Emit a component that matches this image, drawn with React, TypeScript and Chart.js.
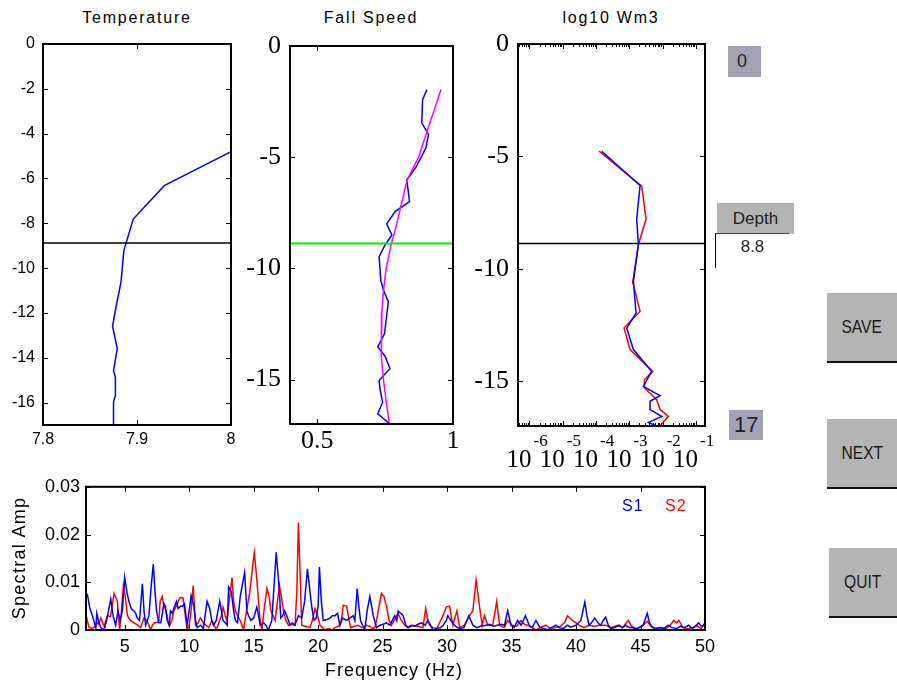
import React, { useEffect, useRef } from 'react';
import { Chart, registerables } from 'chart.js';
Chart.register(...registerables);

// ---------------- DATA ----------------
const DEPTH_MARK = -8.88;
const DEPTH_LABEL = '8.8';
const DEPTH_MIN_LABEL = '0';
const DEPTH_MAX_LABEL = '17';

const DEPTH_TICKS_TEMP = [0, -2, -4, -6, -8, -10, -12, -14, -16];
const DEPTH_TICKS_5 = [0, -5, -10, -15];

const TEMP_TICKS = [7.8, 7.9, 8];
const TEMP_DEPTH = [-4.8, -6.32, -7.81, -9.22, -10.61, -11.88, -12.59, -13.59, -14.59, -14.86, -15.68, -15.98, -17.0];
const TEMP_VALUES = [8.0, 7.929, 7.896, 7.886, 7.883, 7.877, 7.874, 7.879, 7.875, 7.877, 7.877, 7.875, 7.875];

const FALL_TICKS = [0.5, 1];
const FALL_DEPTH = [-1.96, -2.41, -3.46, -3.99, -4.59, -5.42, -6.02, -7.0, -7.45, -8.0, -8.5, -8.95, -9.47, -10.53, -10.98, -11.5, -12.93, -13.53, -13.95, -14.51, -15.04, -15.49, -16.02, -16.54, -17.0];
const FALL_SPEED = [0.904, 0.888, 0.885, 0.91, 0.9, 0.865, 0.83, 0.84, 0.787, 0.756, 0.775, 0.75, 0.728, 0.734, 0.744, 0.762, 0.748, 0.723, 0.75, 0.768, 0.728, 0.732, 0.741, 0.723, 0.768];
const MODEL_DEPTH = [-1.96, -3.5, -5, -6, -7, -8, -9, -10, -11, -12, -13, -14, -15, -16, -17];
const MODEL_SPEED = [0.956, 0.914, 0.873, 0.832, 0.812, 0.793, 0.771, 0.754, 0.744, 0.738, 0.735, 0.738, 0.744, 0.754, 0.766];

const LOG_MIN = -6.345;
const LOG_MAX = -0.73;
const LOG_TICKS = [-6, -5, -4, -3, -2, -1];
const W1_DEPTH = [-4.77, -6.3, -7.81, -8.93, -10.56, -11.97, -12.64, -13.6, -14.57, -15.24, -15.65, -15.9, -16.27, -16.57, -16.84, -17.0];
const W1_LOG = [-3.83, -2.68, -2.78, -2.73, -2.88, -2.8, -3.08, -2.88, -2.33, -2.58, -2.08, -2.38, -2.38, -2.03, -2.43, -2.18];
const W2_DEPTH = [-4.77, -6.33, -7.78, -8.93, -10.6, -11.9, -12.64, -13.6, -14.57, -14.94, -15.3, -15.83, -16.27, -16.57, -17.0];
const W2_LOG = [-3.91, -2.63, -2.5, -2.73, -2.9, -2.68, -3.16, -2.98, -2.3, -2.55, -2.55, -2.18, -2.08, -1.83, -2.08];

const FREQ_TICKS = [5, 10, 15, 20, 25, 30, 35, 40, 45, 50];
const AMP_TICKS = [0, 0.01, 0.02, 0.03];
// [frequency Hz, spectral amplitude]
const S1_POINTS: [number, number][] = [
  [2.0, 0.0075], [2.11, 0.0074], [2.3, 0.0045], [2.5, 0.003], [2.76, 0.0004], [2.84, 0.0035], [3.0, 0.0015], [3.15, 0.0005], [3.4, 0.0], [3.6, 0.002],
  [3.92, 0.0065], [4.1, 0.003], [4.3, 0.001], [4.48, 0.004], [4.65, 0.002], [4.82, 0.004], [5.0, 0.011], [5.17, 0.008], [5.33, 0.006], [5.5, 0.0045],
  [5.72, 0.004], [5.85, 0.0035], [5.98, 0.0025], [6.15, 0.002], [6.37, 0.0097], [6.5, 0.004], [6.62, 0.001], [6.75, 0.002], [6.88, 0.003], [7.05, 0.009],
  [7.22, 0.0138], [7.35, 0.008], [7.47, 0.004], [7.65, 0.0015], [7.8, 0.0015], [8.04, 0.0055], [8.15, 0.005], [8.3, 0.002], [8.45, 0.001], [8.55, 0.004],
  [8.7, 0.0035], [8.81, 0.0045], [9.02, 0.006], [9.15, 0.0045], [9.33, 0.005], [9.5, 0.005], [9.64, 0.0055], [9.84, 0.001], [10.0, 0.004], [10.15, 0.0072],
  [10.36, 0.005], [10.5, 0.002], [10.62, 0.0005], [10.9, 0.001], [11.1, 0.0003], [11.39, 0.006], [11.59, 0.0045], [11.75, 0.002], [11.9, 0.001], [12.1, 0.002],
  [12.37, 0.006], [12.5, 0.004], [12.62, 0.002], [12.8, 0.0015], [12.95, 0.001], [13.06, 0.009], [13.27, 0.008], [13.45, 0.004], [13.58, 0.002], [13.75, 0.0015],
  [13.96, 0.007], [14.3, 0.012], [14.48, 0.004], [14.6, 0.003], [14.79, 0.002], [15.0, 0.0025], [15.25, 0.0048], [15.38, 0.003], [15.51, 0.001], [15.77, 0.0015],
  [15.95, 0.001], [16.15, 0.0], [16.41, 0.002], [16.75, 0.0163], [17.0, 0.008], [17.1, 0.0025], [17.26, 0.003], [17.4, 0.004], [17.57, 0.003], [17.83, 0.001],
  [18.0, 0.0015], [18.2, 0.001], [18.47, 0.003], [18.73, 0.0025], [18.95, 0.006], [19.17, 0.0128], [19.37, 0.008], [19.5, 0.005], [19.68, 0.002], [19.85, 0.0025],
  [20.0, 0.005], [20.1, 0.0132], [20.25, 0.006], [20.4, 0.002], [20.7, 0.0022], [20.92, 0.0025], [21.1, 0.003], [21.31, 0.003], [21.5, 0.0035], [21.69, 0.001],
  [21.9, 0.0025], [22.21, 0.002], [22.45, 0.0025], [22.72, 0.003], [22.85, 0.002], [23.03, 0.0087], [23.15, 0.005], [23.29, 0.002], [23.45, 0.001], [23.62, 0.0],
  [23.8, 0.004], [24.01, 0.007], [24.15, 0.005], [24.27, 0.003], [24.53, 0.0005], [24.8, 0.001], [25.04, 0.0012], [25.3, 0.0015], [25.56, 0.001], [25.75, 0.002],
  [25.94, 0.003], [26.1, 0.002], [26.2, 0.004], [26.4, 0.0035], [26.59, 0.003], [26.8, 0.001], [26.97, 0.0005], [27.2, 0.001], [27.5, 0.0008], [27.75, 0.0012],
  [28.0, 0.0015], [28.3, 0.001], [28.52, 0.002], [28.7, 0.001], [28.91, 0.0], [29.2, 0.0003], [29.5, 0.0005], [29.7, 0.001], [29.94, 0.002], [30.06, 0.003],
  [30.3, 0.002], [30.58, 0.001], [30.8, 0.0005], [31.0, 0.0003], [31.3, 0.0005], [31.69, 0.003], [32.0, 0.001], [32.3, 0.0005], [32.6, 0.0008], [33.03, 0.001],
  [33.3, 0.0012], [33.6, 0.0008], [33.9, 0.001], [34.2, 0.0012], [34.45, 0.001], [34.7, 0.004], [34.96, 0.001], [35.2, 0.0005], [35.47, 0.002], [35.75, 0.001],
  [36.07, 0.003], [36.37, 0.001], [36.6, 0.0005], [36.89, 0.002], [37.2, 0.0005], [37.5, 0.0003], [37.8, 0.0], [38.1, 0.0005], [38.44, 0.001], [38.7, 0.0005],
  [39.0, 0.0003], [39.34, 0.001], [39.6, 0.0006], [40.0, 0.001], [40.37, 0.002], [40.68, 0.0058], [40.85, 0.003], [41.01, 0.001], [41.2, 0.0015], [41.45, 0.0025],
  [41.7, 0.0015], [41.91, 0.001], [42.1, 0.002], [42.3, 0.0027], [42.5, 0.001], [42.69, 0.0003], [43.0, 0.0005], [43.33, 0.001], [43.6, 0.0005], [43.85, 0.001],
  [44.1, 0.0005], [44.36, 0.0005], [44.6, 0.0002], [44.9, 0.0005], [45.2, 0.001], [45.52, 0.0035], [45.7, 0.0015], [45.91, 0.0005], [46.2, 0.0003], [46.5, 0.0005],
  [46.8, 0.0003], [47.14, 0.001], [47.45, 0.0005], [47.8, 0.0003], [48.1, 0.0008], [48.4, 0.0005], [48.74, 0.001], [49.0, 0.0003], [49.2, 0.0007], [49.51, 0.0015],
  [49.7, 0.0008], [49.9, 0.001], [50.0, 0.0015],
];
const S2_POINTS: [number, number][] = [
  [2.0, 0.0028], [2.06, 0.0025], [2.24, 0.0005], [2.5, 0.0003], [2.7, 0.0008], [2.89, 0.0015], [3.0, 0.0012], [3.15, 0.0025], [3.4, 0.0008], [3.66, 0.003],
  [3.9, 0.0028], [4.18, 0.0077], [4.43, 0.006], [4.61, 0.0], [4.75, 0.004], [4.9, 0.0093], [5.05, 0.007], [5.21, 0.003], [5.45, 0.002], [5.72, 0.0015],
  [6.0, 0.001], [6.24, 0.0005], [6.49, 0.0025], [6.7, 0.002], [6.88, 0.001], [7.01, 0.0], [7.15, 0.001], [7.32, 0.0015], [7.5, 0.0015], [7.65, 0.002],
  [7.75, 0.006], [7.91, 0.007], [8.05, 0.005], [8.22, 0.004], [8.35, 0.002], [8.5, 0.001], [8.65, 0.002], [8.81, 0.004], [9.0, 0.005], [9.28, 0.0068],
  [9.53, 0.0067], [9.7, 0.003], [9.84, 0.0], [10.0, 0.001], [10.15, 0.004], [10.31, 0.0093], [10.49, 0.001], [10.7, 0.0015], [10.87, 0.0025], [11.1, 0.0015],
  [11.3, 0.001], [11.52, 0.0005], [11.77, 0.002], [11.95, 0.001], [12.11, 0.0], [12.3, 0.0015], [12.5, 0.003], [12.62, 0.0048], [12.8, 0.003], [12.93, 0.002],
  [13.1, 0.006], [13.32, 0.011], [13.45, 0.006], [13.58, 0.004], [13.75, 0.003], [13.96, 0.002], [14.1, 0.001], [14.22, 0.0], [14.45, 0.004], [14.7, 0.008],
  [15.05, 0.0162], [15.2, 0.012], [15.38, 0.006], [15.5, 0.002], [15.64, 0.0], [15.8, 0.004], [16.03, 0.0087], [16.2, 0.007], [16.34, 0.004], [16.5, 0.003],
  [16.67, 0.002], [16.8, 0.005], [17.0, 0.0093], [17.15, 0.007], [17.31, 0.004], [17.5, 0.002], [17.7, 0.001], [17.9, 0.0012], [18.21, 0.001], [18.35, 0.008],
  [18.47, 0.0225], [18.6, 0.012], [18.73, 0.001], [19.0, 0.0008], [19.37, 0.0005], [19.55, 0.002], [19.76, 0.0045], [19.95, 0.003], [20.15, 0.001], [20.35, 0.0005],
  [20.53, 0.0], [20.8, 0.0003], [21.05, 0.0], [21.31, 0.0005], [21.6, 0.0008], [21.8, 0.002], [21.95, 0.0052], [22.21, 0.005], [22.4, 0.002], [22.52, 0.0005],
  [22.8, 0.0008], [23.11, 0.001], [23.4, 0.0005], [23.75, 0.001], [24.0, 0.0008], [24.2, 0.0003], [24.4, 0.0005], [24.6, 0.003], [24.91, 0.0077], [25.1, 0.007],
  [25.3, 0.005], [25.5, 0.002], [25.69, 0.001], [25.9, 0.002], [26.2, 0.0035], [26.45, 0.002], [26.72, 0.001], [27.0, 0.0005], [27.36, 0.001], [27.7, 0.0008],
  [28.13, 0.0005], [28.34, 0.0045], [28.5, 0.002], [28.65, 0.001], [28.9, 0.0005], [29.2, 0.0003], [29.5, 0.002], [29.68, 0.003], [29.94, 0.0048], [30.19, 0.005],
  [30.45, 0.001], [30.76, 0.004], [30.97, 0.0005], [31.35, 0.001], [31.55, 0.002], [31.74, 0.003], [32.0, 0.004], [32.25, 0.0105], [32.56, 0.004], [32.72, 0.001],
  [32.9, 0.003], [33.16, 0.001], [33.54, 0.001], [33.85, 0.006], [34.06, 0.001], [34.44, 0.0005], [34.7, 0.002], [35.04, 0.001], [35.4, 0.0008], [35.73, 0.002],
  [36.0, 0.0012], [36.25, 0.001], [36.6, 0.0005], [36.89, 0.0], [37.2, 0.0005], [37.66, 0.001], [38.0, 0.0003], [38.4, 0.0005], [38.8, 0.0008], [39.1, 0.0015],
  [39.34, 0.003], [39.72, 0.002], [40.0, 0.0015], [40.24, 0.001], [40.6, 0.0005], [41.01, 0.001], [41.4, 0.0008], [41.8, 0.001], [42.3, 0.001], [42.7, 0.0005],
  [43.2, 0.001], [43.6, 0.0005], [44.05, 0.002], [44.3, 0.0008], [44.7, 0.0003], [45.1, 0.0008], [45.52, 0.0018], [45.8, 0.0008], [46.2, 0.0003], [46.6, 0.0005],
  [47.0, 0.0003], [47.3, 0.001], [47.58, 0.002], [47.8, 0.0015], [47.97, 0.002], [48.3, 0.0005], [48.6, 0.0002], [49.0, 0.0005], [49.4, 0.0008], [49.7, 0.0003],
  [50.0, 0.0015],
];

// ---------------- STYLE ----------------
const ARIAL = 'Arial, "Liberation Sans", Helvetica, sans-serif';
const TIMES = '"Times New Roman", "Liberation Serif", Times, serif';

type Geo = { left: number; top: number; width: number; height: number; pL: number; pT: number; pR: number; pB: number };

const GEO_TEMP: Geo = { left: 0, top: 0, width: 250, height: 460, pL: 43, pT: 44, pR: 231, pB: 425 };
const GEO_FALL: Geo = { left: 236, top: 0, width: 230, height: 460, pL: 290, pT: 46, pR: 453, pB: 424 };
const GEO_LOG: Geo = { left: 466, top: 0, width: 254, height: 475, pL: 518, pT: 44, pR: 705, pB: 426 };
const GEO_SPEC: Geo = { left: 0, top: 470, width: 722, height: 212, pL: 86, pT: 482, pR: 705, pB: 630 };

const framePlugin = {
  id: 'frame',
  afterDatasetsDraw(chart: any, _a: any, opts: any) {
    const { ctx, chartArea: a } = chart;
    const xs = chart.scales.x;
    const ys = chart.scales.y;
    const len = opts.tick || 5;
    ctx.save();
    ctx.strokeStyle = '#000';
    ctx.lineWidth = 1;
    ctx.beginPath();
    xs.ticks.forEach((t: any) => {
      const p = Math.round(xs.getPixelForValue(t.value)) + 0.5;
      ctx.moveTo(p, a.bottom); ctx.lineTo(p, a.bottom - len);
      ctx.moveTo(p, a.top); ctx.lineTo(p, a.top + len);
    });
    ys.ticks.forEach((t: any) => {
      const p = Math.round(ys.getPixelForValue(t.value)) + 0.5;
      ctx.moveTo(a.left, p); ctx.lineTo(a.left + len, p);
      ctx.moveTo(a.right, p); ctx.lineTo(a.right - len, p);
    });
    (opts.minorX || []).forEach((v: number) => {
      if (v <= xs.min || v >= xs.max) return;
      const p = Math.round(xs.getPixelForValue(v)) + 0.5;
      ctx.moveTo(p, a.bottom); ctx.lineTo(p, a.bottom - 3);
      ctx.moveTo(p, a.top); ctx.lineTo(p, a.top + 3);
    });
    ctx.stroke();
    ctx.lineWidth = opts.width || 2;
    ctx.strokeRect(a.left, a.top, a.right - a.left, a.bottom - a.top);
    ctx.restore();
  },
};

const logLabelPlugin = {
  id: 'logLabels',
  afterDraw(chart: any) {
    const { ctx } = chart;
    const xs = chart.scales.x;
    ctx.save();
    ctx.fillStyle = '#000';
    ctx.textBaseline = 'alphabetic';
    LOG_TICKS.forEach((v) => {
      const p = xs.getPixelForValue(v);
      ctx.font = `25px ${TIMES}`;
      ctx.textAlign = 'right';
      ctx.fillText('10', p + 2, 467);
      ctx.font = `17px ${TIMES}`;
      ctx.textAlign = 'left';
      ctx.fillText(String(v), p + 4, 446);
    });
    ctx.restore();
  },
};

interface AxisSpec {
  min: number; max: number; ticks: number[]; size: number; family: string; padding: number; labels?: boolean;
}

const fmt = (v: number) => String(Math.round(v * 10000) / 10000);

function buildOptions(g: Geo, x: AxisSpec, y: AxisSpec, frame: any = {}) {
  const padTop = g.pT - g.top;
  const padRight = g.left + g.width - g.pR;
  const yWidth = g.pL - g.left;
  const xHeight = g.top + g.height - g.pB;
  return {
    responsive: false,
    animation: false,
    events: [],
    layout: { padding: { left: 0, top: padTop, right: padRight, bottom: 0 } },
    plugins: { legend: { display: false }, tooltip: { enabled: false }, frame },
    scales: {
      x: {
        type: 'linear', position: 'bottom', min: x.min, max: x.max,
        grid: { display: false, drawTicks: false }, border: { display: false },
        ticks: {
          display: x.labels !== false, color: '#000', font: { family: x.family, size: x.size },
          padding: x.padding, maxRotation: 0, minRotation: 0, autoSkip: false,
          callback: (v: any) => fmt(Number(v)),
        },
        afterBuildTicks: (s: any) => { s.ticks = x.ticks.map((v) => ({ value: v })); },
        afterFit: (s: any) => { s.height = xHeight; },
      },
      y: {
        type: 'linear', position: 'left', min: y.min, max: y.max,
        grid: { display: false, drawTicks: false }, border: { display: false },
        ticks: {
          display: y.labels !== false, color: '#000', font: { family: y.family, size: y.size },
          padding: y.padding, autoSkip: false, callback: (v: any) => fmt(Number(v)),
        },
        afterBuildTicks: (s: any) => { s.ticks = y.ticks.map((v) => ({ value: v })); },
        afterFit: (s: any) => { s.width = yWidth; },
      },
    },
  };
}

const line = (xs: number[], ys: number[], color: string, width = 1.5) => ({
  data: xs.map((v, i) => ({ x: v, y: ys[i] })),
  showLine: true, borderColor: color, backgroundColor: color, borderWidth: width,
  pointRadius: 0, tension: 0, clip: 0,
});

function ChartCanvas({ g, make }: { g: Geo; make: () => any }) {
  const ref = useRef<HTMLCanvasElement>(null);
  useEffect(() => {
    const chart = new Chart(ref.current as HTMLCanvasElement, make());
    return () => chart.destroy();
  }, []);
  return (
    <canvas ref={ref} width={g.width} height={g.height}
      style={{ position: 'absolute', left: g.left, top: g.top, width: g.width, height: g.height }} />
  );
}

const makeTemp = () => ({
  type: 'scatter',
  data: {
    datasets: [
      line([TEMP_TICKS[0], TEMP_TICKS[TEMP_TICKS.length - 1]], [DEPTH_MARK, DEPTH_MARK], '#000', 1.5),
      line(TEMP_VALUES, TEMP_DEPTH, '#0000ff', 1.5),
    ],
  },
  options: buildOptions(GEO_TEMP,
    { min: 7.8, max: 8, ticks: TEMP_TICKS, size: 16, family: ARIAL, padding: 5 },
    { min: -17, max: 0, ticks: DEPTH_TICKS_TEMP, size: 16, family: ARIAL, padding: 8 },
    { width: 2 }),
  plugins: [framePlugin],
});

const makeFall = () => ({
  type: 'scatter',
  data: {
    datasets: [
      line([0.4, 1], [DEPTH_MARK, DEPTH_MARK], '#00ee00', 2),
      line(MODEL_SPEED, MODEL_DEPTH, '#ff00ff', 1.5),
      line(FALL_SPEED, FALL_DEPTH, '#0000ff', 1.5),
    ],
  },
  options: buildOptions(GEO_FALL,
    { min: 0.4, max: 1, ticks: FALL_TICKS, size: 26, family: TIMES, padding: 2 },
    { min: -17, max: 0, ticks: DEPTH_TICKS_5, size: 26, family: TIMES, padding: 9 },
    { width: 2 }),
  plugins: [framePlugin],
});

const LOG_MINOR: number[] = [];
for (let d = -7; d <= -1; d++) for (let k = 2; k <= 9; k++) LOG_MINOR.push(d + Math.log10(k));

const makeLog = () => ({
  type: 'scatter',
  data: {
    datasets: [
      line([LOG_MIN, LOG_MAX], [DEPTH_MARK, DEPTH_MARK], '#000', 1.5),
      line(W1_LOG, W1_DEPTH, '#0000ff', 1.5),
      line(W2_LOG, W2_DEPTH, '#ff0000', 1.5),
    ],
  },
  options: buildOptions(GEO_LOG,
    { min: LOG_MIN, max: LOG_MAX, ticks: LOG_TICKS, size: 25, family: TIMES, padding: 2, labels: false },
    { min: -17, max: 0, ticks: DEPTH_TICKS_5, size: 26, family: TIMES, padding: 9 },
    { width: 2, minorX: LOG_MINOR }),
  plugins: [framePlugin, logLabelPlugin],
});

const makeSpec = () => ({
  type: 'scatter',
  data: {
    datasets: [
      { ...line(S1_POINTS.map((p) => p[0]), S1_POINTS.map((p) => p[1]), '#0000ff', 1.5) },
      { ...line(S2_POINTS.map((p) => p[0]), S2_POINTS.map((p) => p[1]), '#ff0000', 1.5) },
    ],
  },
  options: buildOptions(GEO_SPEC,
    { min: 2, max: 50, ticks: FREQ_TICKS, size: 18, family: ARIAL, padding: 6 },
    { min: 0, max: 0.03, ticks: AMP_TICKS, size: 18, family: ARIAL, padding: 6 },
    { width: 2 }),
  plugins: [framePlugin],
});

const abs = (s: React.CSSProperties): React.CSSProperties => ({ position: 'absolute', ...s });

function Title({ text, cx, top }: { text: string; cx: number; top: number }) {
  return (
    <div style={abs({ left: cx - 100, top, width: 200, textAlign: 'center', font: `16px ${ARIAL}`, letterSpacing: '1.8px', color: '#000', whiteSpace: 'nowrap' })}>
      {text}
    </div>
  );
}

function Button({ label, left, top, width }: { label: string; left: number; top: number; width: number }) {
  return (
    <div style={abs({
      left, top, width, height: 70, background: '#b4b4b4', borderBottom: '2px solid #111', boxSizing: 'border-box',
      display: 'flex', alignItems: 'center', justifyContent: 'center', font: `19px ${ARIAL}`, color: '#1a1a1a',
    })}>
      <span style={{ display: 'inline-block', transform: 'scaleX(0.82)' }}>{label}</span>
    </div>
  );
}

export default function App() {
  return (
    <div style={abs({ left: 0, top: 0, width: 897, height: 682, background: '#fff', overflow: 'hidden', fontFamily: ARIAL })}>
      <Title text="Temperature" cx={137} top={9} />
      <Title text="Fall Speed" cx={371} top={9} />
      <Title text="log10 Wm3" cx={611} top={9} />

      <ChartCanvas g={GEO_TEMP} make={makeTemp} />
      <ChartCanvas g={GEO_FALL} make={makeFall} />
      <ChartCanvas g={GEO_LOG} make={makeLog} />
      <ChartCanvas g={GEO_SPEC} make={makeSpec} />

      <div style={abs({ left: 622, top: 497, font: `16px ${ARIAL}`, color: '#0000ff', letterSpacing: '1px', lineHeight: '18px' })}>S1</div>
      <div style={abs({ left: 665, top: 497, font: `16px ${ARIAL}`, color: '#ff0000', letterSpacing: '1px', lineHeight: '18px' })}>S2</div>

      <div style={abs({ left: -60, top: 547, width: 160, height: 22, lineHeight: '22px', textAlign: 'center', transform: 'rotate(-90deg)', font: `18px ${ARIAL}`, letterSpacing: '1.3px', color: '#000', whiteSpace: 'nowrap' })}>
        Spectral Amp
      </div>
      <div style={abs({ left: 294, top: 660, width: 200, textAlign: 'center', font: `18px ${ARIAL}`, letterSpacing: '1px', color: '#000', whiteSpace: 'nowrap' })}>
        Frequency (Hz)
      </div>

      <div style={abs({ left: 728, top: 46, width: 33, height: 31, background: '#a2a1b6', font: `18px ${ARIAL}`, color: '#222', lineHeight: '31px', paddingLeft: 9, boxSizing: 'border-box' })}>
        {DEPTH_MIN_LABEL}
      </div>
      <div style={abs({ left: 729, top: 410, width: 34, height: 30, background: '#a2a1b6', font: `22px ${ARIAL}`, color: '#222', lineHeight: '30px', paddingLeft: 5, boxSizing: 'border-box' })}>
        {DEPTH_MAX_LABEL}
      </div>

      <div style={abs({ left: 717, top: 203, width: 77, height: 31, background: '#b3b3b3', display: 'flex', alignItems: 'center', justifyContent: 'center', font: `17px ${ARIAL}`, color: '#222' })}>
        Depth
      </div>
      <div style={abs({ left: 715, top: 233, width: 74, height: 35, borderLeft: '1px solid #000', borderTop: '1px solid #444', boxSizing: 'border-box', textAlign: 'center', font: `17px ${ARIAL}`, color: '#222', lineHeight: '26px' })}>
        {DEPTH_LABEL}
      </div>

      <Button label="SAVE" left={827} top={293} width={70} />
      <Button label="NEXT" left={827} top={419} width={70} />
      <Button label="QUIT" left={829} top={548} width={68} />
    </div>
  );
}
